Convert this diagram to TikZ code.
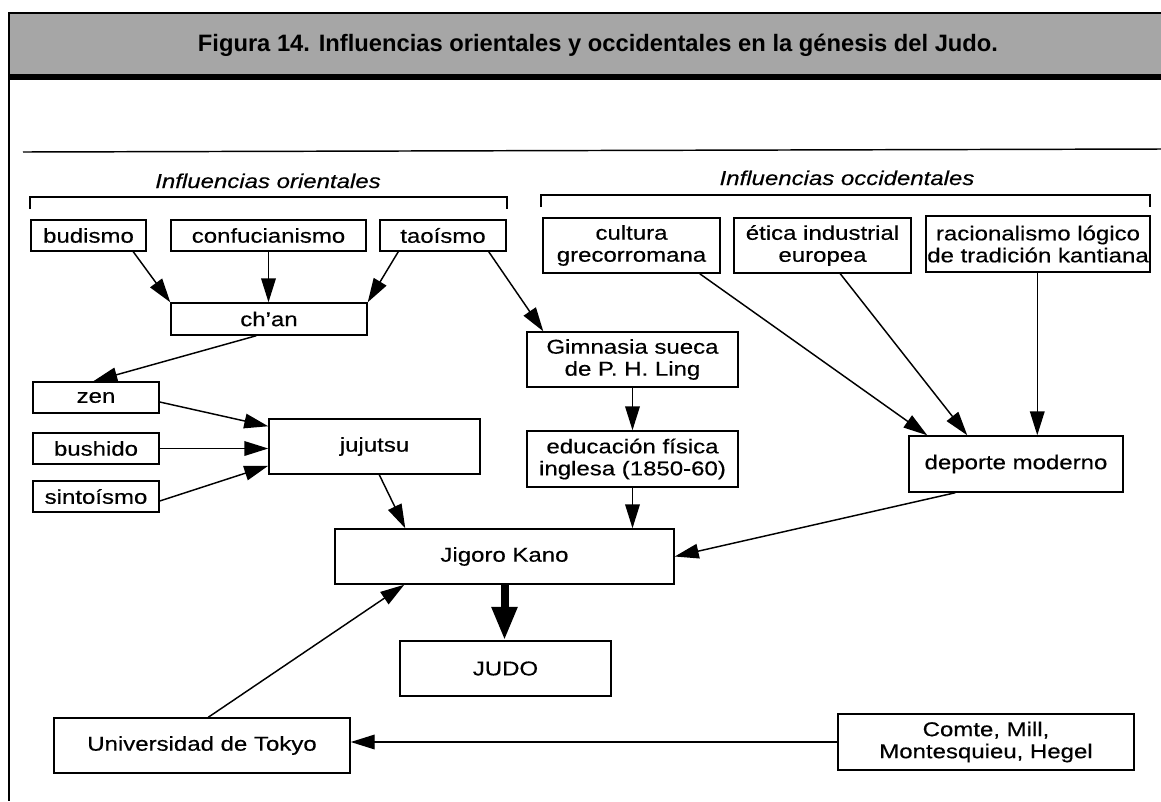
\documentclass[tikz,border=0pt]{standalone}
\usepackage{fontspec}
\setmainfont{Liberation Sans}[FakeStretch=1.2,FakeBold=0.4]
\newfontfamily\titlefont{Liberation Sans}
\usetikzlibrary{arrows.meta,calc}
\definecolor{hdrgray}{HTML}{A6A6A6}
\newcommand\bx[6]{\node[box, minimum width={(#4-#2)*0.75pt}, minimum height={(#5-#3)*0.75pt}] (#1) at ({(#2+#4)/2},{(#3+#5)/2}) {#6};}
\begin{document}
\begin{tikzpicture}[x=0.75pt,y=-0.75pt,
  box/.style={draw, line width=1.1pt, inner sep=0pt, align=center,
    font=\fontsize{15}{16.5}\selectfont},
  arr/.style={line width=1.1pt, -{Triangle[length=18pt,width=11pt]}},
  bigarr/.style={line width=6pt, -{Triangle[length=25pt,width=18pt]}},
  brk/.style={line width=1.8pt},
  grp/.style={font=\fontsize{15}{16.5}\selectfont\itshape, anchor=base, inner sep=0pt},
  ttl/.style={font=\titlefont\bfseries\fontsize{17.8}{20}\selectfont, anchor=base, inner sep=0pt}]
\useasboundingbox (0,0) rectangle (1161,801);
% frame and header
\fill[hdrgray] (10,14) rectangle (1161,74);
\fill[black] (8,12) rectangle (1161,14);
\fill[black] (8,74) rectangle (1161,80);
\fill[black] (8,12) rectangle (10,801);
\node[ttl] (title) at (598,51) {Figura 14. Influencias orientales y occidentales en la génesis del Judo.};
% rule
\coordinate (ruleL) at (23,152);
\coordinate (ruleR) at (1161,149);
\draw[line width=1.1pt] (ruleL) -- (ruleR);
% group labels and brackets
\node[grp] (orient) at (268,188) {Influencias orientales};
\node[grp] (occid) at (847,185) {Influencias occidentales};
\coordinate (bl1) at (30,209);
\coordinate (bl2) at (507,209);
\draw[brk] (bl1) -- ++(0,-12) -| (bl2);
\coordinate (br1) at (541,207);
\coordinate (br2) at (1150,207);
\draw[brk] (br1) -- ++(0,-12) -| (br2);
% boxes
\bx{budismo}{31}{220}{146}{251}{budismo}
\bx{confu}{171}{220}{366}{251}{confucianismo}
\bx{taoismo}{380}{220}{506}{251}{taoísmo}
\bx{chan}{171}{303}{367}{335}{ch’an}
\bx{zen}{33}{382}{159}{413}{zen}
\bx{bushido}{33}{433}{159}{464}{bushido}
\bx{sinto}{33}{481}{159}{512}{sintoísmo}
\bx{jujutsu}{269}{419}{480}{474}{jujutsu}
\bx{cultura}{543}{218}{720}{273}{cultura\\grecorromana}
\bx{etica}{734}{218}{911}{273}{ética industrial\\europea}
\bx{racion}{926}{216}{1150}{272}{racionalismo lógico\\de tradición kantiana}
\bx{gimnasia}{527}{332}{738}{387}{Gimnasia sueca\\de P. H. Ling}
\bx{educ}{527}{431}{738}{487}{educación física\\inglesa (1850-60)}
\bx{deporte}{909}{436}{1123}{492}{deporte moderno}
\bx{jigoro}{335}{529}{674}{584}{Jigoro Kano}
\bx{judo}{400}{641}{611}{696}{JUDO}
\bx{tokyo}{54}{718}{350}{773}{Universidad de Tokyo}
\bx{comte}{838}{714}{1134}{770}{Comte, Mill,\\Montesquieu, Hegel}
% connectors
\draw[arr] ($(budismo.south west)+(103,0)$) -- (chan.north west);
\draw[arr] (confu.south) -- (confu.south |- chan.north);
\draw[arr] ($(taoismo.south west)+(19,0)$) -- (chan.north east);
\draw[arr] ($(taoismo.south east)+(-18,0)$) -- ($(gimnasia.north west)+(17,0)$);
\draw[arr] ($(chan.south west)+(86,0)$) -- ($(zen.north west)+(61,0)$);
\draw[arr] ($(zen.east)+(0,4.5)$) -- ($(jujutsu.north west)+(0,8)$);
\draw[arr] (bushido.east) -- (jujutsu.west |- bushido.east);
\draw[arr] ($(sinto.east)+(0,4.5)$) -- ($(jujutsu.south west)+(0,-9)$);
\draw[arr] ($(jujutsu.south west)+(111,0)$) -- ($(jigoro.north west)+(71,0)$);
\draw[arr] (gimnasia.south) -- (educ.north);
\draw[arr] (educ.south) -- (educ.south |- jigoro.north);
\draw[arr] ($(cultura.south east)+(-21,0)$) -- ($(deporte.north west)+(19,0)$);
\draw[arr] ($(etica.south west)+(107,0)$) -- ($(deporte.north west)+(59,0)$);
\coordinate (rs) at ($(racion.south west)+(112,0)$);
\draw[arr] (rs) -- (rs |- deporte.north);
\draw[arr] ($(deporte.south west)+(47,0)$) -- (jigoro.east);
\draw[bigarr] (jigoro.south) -- (jigoro.south |- judo.north);
\draw[arr] ($(tokyo.north west)+(155,0)$) -- ($(jigoro.south west)+(70,0)$);
\draw[arr] (comte.west) -- (tokyo.east |- comte.west);
\end{tikzpicture}
\end{document}
